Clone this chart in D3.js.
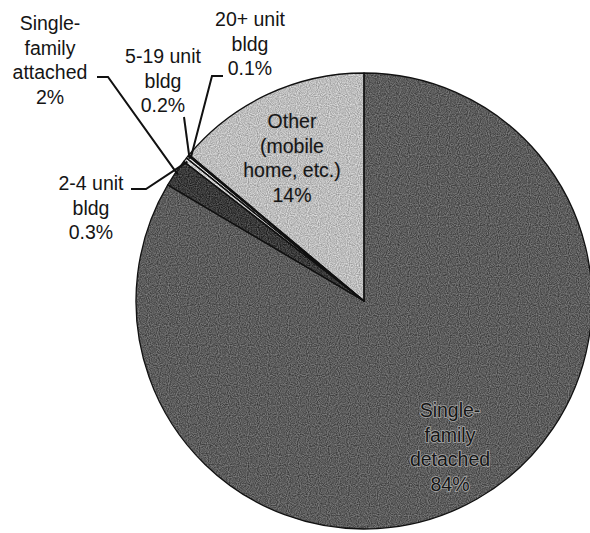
<!DOCTYPE html>
<html>
<head>
<meta charset="utf-8">
<script src="https://cdn.jsdelivr.net/npm/d3@7"></script>
<style>
  body { margin: 0; background: #fff; }
  svg { display: block; }
  text { font-family: "Liberation Sans", Arial, Helvetica, sans-serif; font-size: 19.5px; }
</style>
</head>
<body>
<svg id="chart"></svg>
<script>
// data, clockwise from 12 o'clock
var categories = ["Single-family detached", "Single-family attached", "2-4 unit bldg",
                  "5-19 unit bldg", "20+ unit bldg", "Other (mobile home, etc.)"];
var shares = [84, 2, 0.3, 0.2, 0.1, 14];
var shareLabels = ["84%", "2%", "0.3%", "0.2%", "0.1%", "14%"];
var labelLines = [
  ["Single-", "family", "detached"],
  ["Single-", "family", "attached"],
  ["2-4 unit", "bldg"],
  ["5-19 unit", "bldg"],
  ["20+ unit", "bldg"],
  ["Other", "(mobile", "home, etc.)"]
];

var screen = { width: 590, height: 533 };
var cx = 364, cy = 301, radius = 228;
var lineH = 24.5;

// where the label blocks sit (center x, first baseline) and leader start / elbow
var labelLayout = [
  { x: 450, y: 417, inside: true },
  { x: 50, y: 30, lead: [[97, 77], [108, 77]] },
  { x: 91, y: 190, lead: [[131, 189], [146, 189]] },
  { x: 163, y: 63, lead: [[184, 117]] },
  { x: 250, y: 26, lead: [[223, 76], [212, 76]] },
  { x: 292, y: 128, inside: true }
];
var fills = ["#5c5c5c", "#3a3a3a", "#cfcfcf", "#e6e6e6", "#f2f2f2", "#bdbdbd"];

var svg = d3.select("#chart")
  .attr("width", screen.width)
  .attr("height", screen.height);

// scanned-paper grain
var defs = svg.append("defs");
var grain = defs.append("filter").attr("id", "grain")
  .attr("color-interpolation-filters", "sRGB")
  .attr("x", "0%").attr("y", "0%").attr("width", "100%").attr("height", "100%");
grain.append("feTurbulence").attr("type", "fractalNoise")
  .attr("baseFrequency", 0.9).attr("numOctaves", 1).attr("seed", 3).attr("result", "noise");
grain.append("feColorMatrix").attr("in", "noise").attr("type", "matrix")
  .attr("values", "1 0 0 0 0  1 0 0 0 0  1 0 0 0 0  0 0 0 0 1").attr("result", "gray");
grain.append("feComposite").attr("in", "SourceGraphic").attr("in2", "gray")
  .attr("operator", "arithmetic").attr("k1", 0).attr("k2", 1).attr("k3", 0.5).attr("k4", -0.25)
  .attr("result", "mix");
grain.append("feComposite").attr("in", "mix").attr("in2", "SourceGraphic").attr("operator", "in");

var pie = d3.pie().sort(null).value(function(d) { return d; });
var arcs = pie(shares);

var arc = d3.arc().innerRadius(0).outerRadius(radius);
var edgeArc = d3.arc().innerRadius(radius - 3).outerRadius(radius - 3);

var plot = svg.append("g")
  .attr("transform", "translate(" + cx + "," + cy + ")");

plot.append("g")
  .attr("filter", "url(#grain)")
  .selectAll("path.slice")
  .data(arcs)
  .enter()
  .append("path")
  .attr("class", "slice")
  .attr("d", arc)
  .attr("fill", function(d, i) { return fills[i]; });

plot.selectAll("path.edge")
  .data(arcs)
  .enter()
  .append("path")
  .attr("class", "edge")
  .attr("d", arc)
  .attr("fill", "none")
  .attr("stroke", "#111")
  .attr("stroke-width", 1.3)
  .attr("stroke-linejoin", "round");

// leader lines
var line = d3.line();
labelLayout.forEach(function(l, i) {
  if (!l.lead) return;
  var c = edgeArc.centroid(arcs[i]);
  var pts = l.lead.concat([[cx + c[0], cy + c[1]]]);
  svg.append("path")
    .attr("d", line(pts))
    .attr("fill", "none")
    .attr("stroke", "#111")
    .attr("stroke-width", 2);
});

// labels
var labels = svg.selectAll("text.lbl")
  .data(categories)
  .enter()
  .append("text")
  .attr("class", "lbl")
  .attr("text-anchor", "middle")
  .attr("fill", "#151515")
  .attr("stroke", function(d, i) { return labelLayout[i].inside ? "#a8a8a8" : "none"; })
  .attr("stroke-width", function(d, i) { return i === 0 ? 1.6 : 1; })
  .attr("paint-order", "stroke");

labels.each(function(d, i) {
  var t = d3.select(this);
  var lines = labelLines[i].concat([shareLabels[i]]);
  lines.forEach(function(s, k) {
    t.append("tspan")
      .attr("x", labelLayout[i].x)
      .attr("y", labelLayout[i].y + k * lineH)
      .text(s);
  });
});
</script>
</body>
</html>
